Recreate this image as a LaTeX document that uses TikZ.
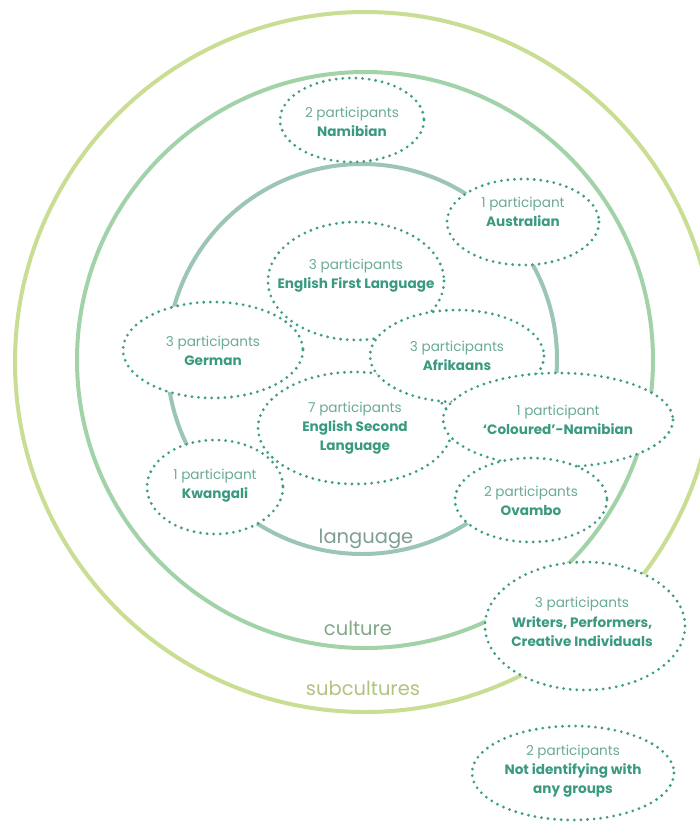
\documentclass[tikz,border=0pt]{standalone}
\usepackage{fontspec}
\setmainfont{Poppins}
\usetikzlibrary{shapes.geometric}
\definecolor{subc}{HTML}{C9DE92}
\definecolor{cult}{HTML}{A2D2A8}
\definecolor{lang}{HTML}{9CC6B4}
\definecolor{dots}{HTML}{3E9C88}
\definecolor{light}{HTML}{6AAA98}
\definecolor{dark}{HTML}{3A9A80}
\newcommand{\pp}[1]{{\color{light}#1}\\}
\newcommand{\nm}[1]{{\bfseries\color{dark}#1}}
\tikzset{
  grp/.style={ellipse, inner sep=0pt, align=center, font=\fontsize{13.6}{19.2}\selectfont},
  ring/.style={line width=4pt},
  dotline/.style={draw=dots, line width=3.1pt, line cap=round, dash pattern=on 0pt off 6.6pt},
}
\begin{document}
\begin{tikzpicture}[x=1pt,y=-1pt]
\useasboundingbox (0,0) rectangle (700,823);
\clip (0,0) rectangle (700,823);
\fill[white] (0,0) rectangle (700,823);
% rings
\draw[ring, subc] (365,362) circle (350);
\draw[ring, cult] (365,360) circle (288);
\draw[ring, lang] (362,359) circle (195);
\node[font=\fontsize{19.5}{22}\selectfont, text=lang!80!black] (llang) at (366,539) {language};
\node[font=\fontsize{19.5}{22}\selectfont, text=cult!80!black] (lcult) at (358,628) {culture};
\node[font=\fontsize{19.5}{22}\selectfont, text=subc!88!black] (lsub) at (363,688) {subcultures};
% ellipses, layered: each covers those drawn before it
\foreach \cx/\cy/\rx/\ry in {352/120/72/42, 523/222/76/43, 356/281/88/59, 355/428/97/56, 457/356/87/46, 213/350/90/48, 558/420/115/47, 215/487/68/47, 531/500/76/42, 585/626/100/64, 573/773/101/47}
  \draw[dotline, fill=white] (\cx,\cy) ellipse [x radius=\rx, y radius=\ry];
% texts
\node[grp] (nam) at (352,122) {\pp{2 participants}\nm{Namibian}};
\node[grp] (aus) at (523,212) {\pp{1 participant}\nm{Australian}};
\node[grp] (efl) at (356,276) {\pp{3 participants}\nm{English First Language}};
\node[grp] (ger) at (213,351) {\pp{3 participants}\nm{German}};
\node[grp] (afr) at (457,356) {\pp{3 participants}\nm{Afrikaans}};
\node[grp] (esl) at (355,428) {\pp{7 participants}\nm{English Second}\\\nm{Language}};
\node[grp] (col) at (558,420) {\pp{1 participant}\nm{‘Coloured’-Namibian}};
\node[grp] (kwa) at (215,486) {\pp{1 participant}\nm{Kwangali}};
\node[grp] (ova) at (531,501) {\pp{2 participants}\nm{Ovambo}};
\node[grp] (wri) at (582,622) {\pp{3 participants}\nm{Writers, Performers,}\\\nm{Creative Individuals}};
\node[grp] (non) at (573,771) {\pp{2 participants}\nm{Not identifying with}\\\nm{any groups}};
\end{tikzpicture}
\end{document}
